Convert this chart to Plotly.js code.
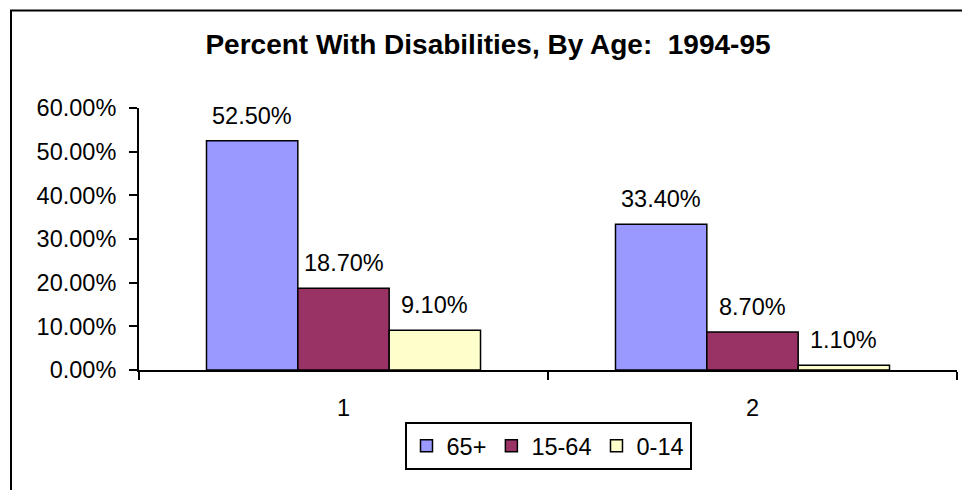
<!DOCTYPE html>
<html>
<head>
<meta charset="utf-8">
<script src="https://cdn.plot.ly/plotly-3.0.1.min.js"></script>
<style>html,body{margin:0;padding:0;background:#fff;}#chart{width:962px;height:490px;}</style>
</head>
<body>
<div id="chart"></div>
<script>
// ---- data ----
const categories = ["1", "2"];
const seriesNames = ["65+", "15-64", "0-14"];
const values65plus = [0.525, 0.334];
const values15to64 = [0.187, 0.087];
const values0to14 = [0.091, 0.011];
const seriesColors = ["#9999FF", "#993366", "#FFFFCC"];
const yTickValues = [0, 0.1, 0.2, 0.3, 0.4, 0.5, 0.6];
const chartTitle = "Percent With Disabilities, By Age:  1994-95";

const seriesValues = [values65plus, values15to64, values0to14];
const FONT = "Arial, 'Liberation Sans', sans-serif";
const BARGAP = 0.33;
const TXT = 23.5;

const traces = seriesNames.map((name, i) => ({
  type: "bar",
  name: name,
  x: categories,
  y: seriesValues[i],
  marker: { color: seriesColors[i], line: { color: "#000", width: 1.5 } },
  hoverinfo: "skip"
}));

// data labels placed over each bar via annotations (position derived from bar layout)
const groupW = 1 - BARGAP;
const annotations = [];
seriesValues.forEach((vals, s) => {
  vals.forEach((v, c) => {
    annotations.push({
      xref: "x", yref: "y",
      x: c + (s - (seriesValues.length - 1) / 2) * groupW / seriesValues.length,
      y: v,
      text: (v * 100).toFixed(2) + "%",
      showarrow: false,
      yanchor: "middle",
      yshift: 25,
      font: { family: FONT, size: TXT, color: "#000" }
    });
  });
});

const layout = {
  width: 962, height: 490,
  margin: { l: 139, r: 5, t: 108, b: 120, pad: 0 },
  paper_bgcolor: "#fff", plot_bgcolor: "#fff",
  font: { family: FONT, color: "#000" },
  title: {
    text: "<b>" + chartTitle + "</b>",
    font: { family: FONT, size: 28, color: "#000" },
    x: 488 / 962, xanchor: "center", xref: "container",
    y: 1 - 44 / 490, yanchor: "middle", yref: "container"
  },
  barmode: "group",
  bargap: BARGAP,
  bargroupgap: 0,
  showlegend: true,
  legend: {
    orientation: "h",
    x: 0.5, xanchor: "center",
    y: -0.1985, yanchor: "top",
    bordercolor: "#000", borderwidth: 2,
    bgcolor: "#fff",
    font: { family: FONT, size: TXT, color: "#000" },
    traceorder: "normal"
  },
  xaxis: {
    type: "category",
    range: [-0.5, 1.5],
    showline: true, linecolor: "#000", linewidth: 2,
    ticks: "outside", tickson: "boundaries", ticklen: 8, tickwidth: 2, tickcolor: "#000",
    tickfont: { family: FONT, size: TXT, color: "#000" },
    ticklabelstandoff: 16,
    showgrid: false, zeroline: false, fixedrange: true
  },
  yaxis: {
    range: [0, 0.6],
    tickvals: yTickValues,
    tickformat: ".2%",
    showline: true, linecolor: "#000", linewidth: 2,
    ticks: "outside", ticklen: 8, tickwidth: 2, tickcolor: "#000",
    tickfont: { family: FONT, size: TXT, color: "#000" },
    ticklabelstandoff: 8,
    showgrid: false, zeroline: false, fixedrange: true
  },
  annotations: annotations,
  shapes: [{
    type: "rect", xref: "paper", yref: "paper",
    x0: (11 - 139) / 818, x1: 2,
    y0: -2, y1: (370 - 10.5) / 262,
    line: { color: "#000", width: 2 }, fillcolor: "rgba(0,0,0,0)",
    layer: "above"
  }]
};

Plotly.newPlot("chart", traces, layout, { displayModeBar: false, staticPlot: true });
</script>
</body>
</html>
